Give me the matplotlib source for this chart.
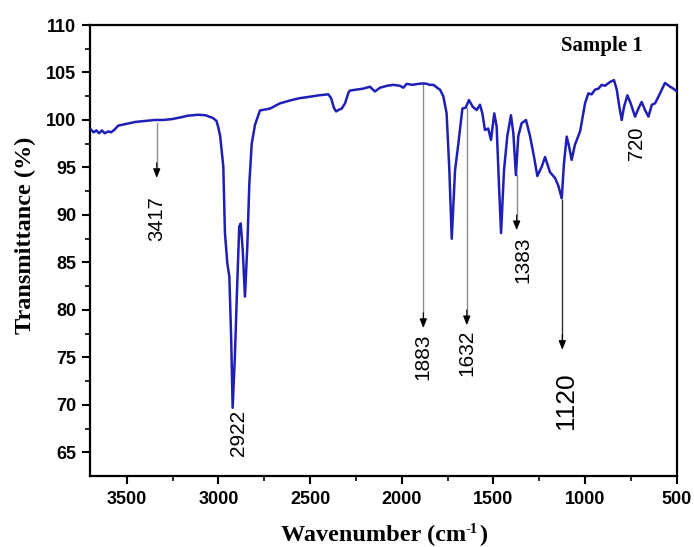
import matplotlib
matplotlib.use("Agg")
import matplotlib.pyplot as plt
from matplotlib.ticker import MultipleLocator
from matplotlib.transforms import offset_copy

# ---- data ----
wavenumber = [3695, 3680, 3665, 3650, 3635, 3620, 3600, 3585, 3565, 3547,
              3500, 3450, 3400, 3347, 3300, 3250, 3200, 3166, 3111, 3070,
              3029, 3010, 3000, 2990, 2973, 2964, 2951, 2940, 2930, 2922,
              2910, 2900, 2886, 2878, 2867, 2855, 2842, 2831, 2818, 2800,
              2773, 2718, 2664, 2600, 2555, 2500, 2450, 2400, 2385, 2370,
              2358, 2340, 2327, 2309, 2290, 2282, 2245, 2210, 2173, 2146,
              2118, 2080, 2046, 2010, 1991, 1973, 1940, 1910, 1882, 1860,
              1849, 1827, 1800, 1791, 1773, 1755, 1740, 1727, 1709, 1691,
              1669, 1651, 1633, 1613, 1591, 1573, 1560, 1546, 1528, 1513,
              1495, 1482, 1469, 1458, 1442, 1424, 1404, 1391, 1377, 1364,
              1346, 1322, 1300, 1278, 1260, 1236, 1218, 1191, 1164, 1146,
              1127, 1115, 1100, 1087, 1073, 1055, 1027, 1000, 982, 964,
              945, 927, 909, 891, 864, 842, 827, 813, 800, 787,
              769, 751, 727, 709, 691, 673, 654, 636, 618, 591,
              564, 536, 518, 500]
transmittance = [99.0, 98.7, 98.9, 98.6, 98.9, 98.6, 98.8, 98.7, 99.0, 99.4,
                 99.6, 99.8, 99.9, 100.0, 100.0, 100.1, 100.3, 100.45, 100.55, 100.5,
                 100.2, 99.9, 99.2, 98.3, 95.1, 88.1, 84.9, 83.5, 77.0, 69.7,
                 75.0, 81.0, 88.8, 89.1, 86.3, 81.4, 86.7, 93.3, 97.5, 99.5,
                 101.0, 101.2, 101.75, 102.1, 102.3, 102.45, 102.6, 102.7, 102.3, 101.3,
                 100.9, 101.1, 101.2, 101.75, 102.9, 103.1, 103.2, 103.3, 103.5, 103.0,
                 103.4, 103.6, 103.7, 103.6, 103.4, 103.8, 103.7, 103.8, 103.85, 103.8,
                 103.7, 103.7, 103.3, 103.2, 102.5, 100.7, 94.7, 87.5, 94.7, 97.5,
                 101.2, 101.3, 102.1, 101.4, 101.05, 101.6, 100.7, 98.95, 99.1, 97.9,
                 100.7, 99.3, 93.0, 88.1, 94.7, 98.3, 100.5, 98.6, 94.2, 98.3,
                 99.65, 100.0, 98.3, 96.1, 94.1, 95.1, 96.1, 94.5, 93.9, 93.1,
                 91.75, 95.4, 98.25, 97.2, 95.8, 97.4, 98.8, 101.75, 102.8, 102.7,
                 103.2, 103.3, 103.7, 103.6, 104.0, 104.2, 103.2, 101.4, 100.0, 101.4,
                 102.6, 101.75, 100.35, 101.2, 101.9, 101.05, 100.35, 101.6, 101.75, 102.8,
                 103.9, 103.5, 103.3, 103.0]

x_ticks = [3500, 3000, 2500, 2000, 1500, 1000, 500]
y_ticks = [65, 70, 75, 80, 85, 90, 95, 100, 105, 110]

peak_labels = ["3417", "2922", "1883", "1632", "1383", "1120", "720"]

# annotation layout: (arrow x, arrow start y, arrow tip y) or None, label position, font size
arrow_specs = [(3336, 99.7, 93.9), None, (1882, 103.8, 78.1), (1645, 101.3, 78.4),
               (1373, 94.2, 88.4), (1124, 91.6, 75.8), None]
shaft_colors = ["#8c8c8c", None, "#8c8c8c", "#8c8c8c", "#8c8c8c", "#333333", None]
label_pos = [(3336, 89.6), (2891, 67.0), (1882, 75.1), (1645, 75.5),
             (1340, 85.3), (1105, 70.4), (720, 97.5)]
label_size = [14.5, 15, 15, 15, 15, 19, 14.5]

# ---- figure ----
fig = plt.figure(figsize=(6.94, 5.47), dpi=100)
ax = fig.add_axes([90/694, 1-475.7/547, (676.7-90)/694, (475.7-25)/547])

ax.plot(wavenumber, transmittance, color="#1f1fb8", lw=1.8, zorder=3)

ax.set_xlim(3700, 500)
ax.set_ylim(62.55, 110)
ax.set_xticks(x_ticks)
ax.set_yticks(y_ticks)
ax.xaxis.set_minor_locator(MultipleLocator(250))
ax.yaxis.set_minor_locator(MultipleLocator(2.5))

for s in ax.spines.values():
    s.set_linewidth(1.6)
ax.tick_params(which="major", direction="out", length=6, width=1.5,
               labelsize=13, top=False, right=False)
ax.tick_params(which="minor", direction="out", length=3.5, width=1.2,
               top=False, right=False)
ax.tick_params(axis="y", pad=4)
ax.tick_params(axis="x", pad=5)
for lab in ax.get_xticklabels() + ax.get_yticklabels():
    lab.set_fontfamily("Liberation Sans")
    lab.set_fontweight("bold")

serif = "Liberation Serif"

# x-axis label built from pieces so the superscript keeps a plain hyphen
fig.canvas.draw()
renderer = fig.canvas.get_renderer()
lab_fs = 17.5
main = "Wavenumber (cm"
sup = "-1"
close = ")"
t_main = fig.text(0, 0, main, fontsize=lab_fs, fontweight="bold", family=serif)
t_sup = fig.text(0, 0, sup, fontsize=lab_fs * 0.6, fontweight="bold", family=serif)
t_close = fig.text(0, 0, close, fontsize=lab_fs, fontweight="bold", family=serif)
w_main = t_main.get_window_extent(renderer).width
w_sup = t_sup.get_window_extent(renderer).width
w_close = t_close.get_window_extent(renderer).width
total = w_main + w_sup + w_close + 1
x0 = 384 - total / 2
base_y = 547 - 541
t_main.set_position((x0 / 694, base_y / 547))
t_main.set_va("baseline")
t_sup.set_position(((x0 + w_main) / 694, (base_y + 8) / 547))
t_sup.set_va("baseline")
t_close.set_position(((x0 + w_main + w_sup + 1) / 694, base_y / 547))
t_close.set_va("baseline")

fig.text(25/694, 1-235/547, "Transmittance (%)", ha="center", va="center",
         rotation=90, fontsize=17.5, fontweight="bold", family=serif)

ax.text(602/694, 1-45.7/547, "Sample 1", transform=fig.transFigure, ha="center",
        va="center", fontsize=15, fontweight="bold", family=serif)

for lab, arr, sc, pos, fs in zip(peak_labels, arrow_specs, shaft_colors, label_pos, label_size):
    if arr is not None:
        xa, y0, y1 = arr
        ax.plot([xa, xa], [y0, y1 + 1.0], color=sc, lw=1.0, zorder=2)
        ax.annotate("", xy=(xa, y1), xytext=(xa, y1 + 1.6),
                    arrowprops=dict(arrowstyle="-|>,head_length=0.55,head_width=0.22",
                                    color="black", lw=0.8, shrinkA=0, shrinkB=0))
    ax.text(pos[0], pos[1], lab, rotation=90, ha="center", va="center",
            fontsize=fs, family="Liberation Sans")

fig.savefig("out.png", dpi=100)
